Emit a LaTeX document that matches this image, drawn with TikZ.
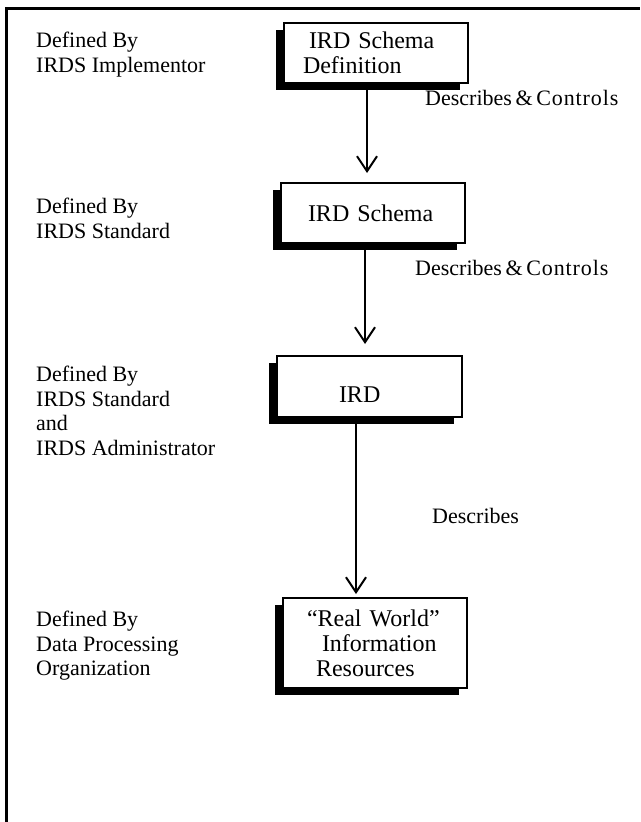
\documentclass[tikz,border=0pt]{standalone}
\usepackage{fontspec}
\setmainfont{Liberation Serif}
\usetikzlibrary{arrows.meta,shadows}

\begin{document}
\begin{tikzpicture}[x=1pt, y=-1pt,
      irdbox/.style={draw, line width=2pt, fill=white, rectangle,
                     minimum width=184pt, align=left,
                     font=\fontsize{24}{25}\selectfont,
                     drop shadow={shadow xshift=-8pt, shadow yshift=-7pt,
                                  fill=black, opacity=1}},
      sidelabel/.style={anchor=north west, inner sep=0pt, align=left,
                        font=\fontsize{22}{24.5}\selectfont},
      flowlabel/.style={anchor=base west, inner sep=0pt,
                        font=\fontsize{22}{24}\selectfont},
      flowarrow/.style={-{Straight Barb[length=15pt,width=20pt]},
                        line width=2pt}]

  \useasboundingbox (0,0) rectangle (640,822);
  % frame
  \draw[line width=3pt] (6.5,822) -- (6.5,8) -- (640,8);

  % levels
  \node[irdbox, minimum height=60pt, inner xsep=19pt, text width=146pt]
       (schemadef) at (376,53) {\hspace*{6pt}IRD Schema\\Definition};
  \node[irdbox, minimum height=60pt, inner xsep=27pt, text width=129pt]
       (schema) at (372.5,213) {IRD Schema};
  \node[irdbox, minimum height=61pt, inner xsep=62pt, text width=61pt]
       (ird) at (369.5,386.5) {\raisebox{-16pt}[0pt][0pt]{IRD}};
  \node[irdbox, minimum height=90pt, inner xsep=24pt, text width=135pt]
       (resources) at (374.5,643)
       {“Real World”\\\hspace*{15pt}Information\\\hspace*{9pt}Resources};

  % who defines each level
  \node[sidelabel] (implementor) at (36,32) {Defined By\\IRDS Implementor};
  \node[sidelabel] (standard) at (36,198) {Defined By\\IRDS Standard};
  \node[sidelabel] (administrator) at (36,366)
       {Defined By\\IRDS Standard\\and\\IRDS Administrator};
  \node[sidelabel] (dporg) at (36,611)
       {Defined By\\Data Processing\\Organization};

  % arrows
  \coordinate (a1) at ([xshift=-9pt]schemadef.south);
  \coordinate (a2) at ([xshift=-7.5pt]schema.south);
  \coordinate (a3) at ([xshift=-13.5pt]ird.south);
  \draw[flowarrow, shorten >=9pt] (a1) -- (a1 |- schema.north);
  \draw[flowarrow, shorten >=11pt] (a2) -- (a2 |- ird.north);
  \draw[flowarrow, shorten >=3pt] (a3) -- (a3 |- resources.north);

  \node[flowlabel] (ctrl1) at (425,105)
       {Describes\,\&\,{\addfontfeature{LetterSpace=4}Controls}};
  \node[flowlabel] (ctrl2) at (415,275)
       {Describes\,\&\,{\addfontfeature{LetterSpace=4}Controls}};
  \node[flowlabel] (desc) at (432,523) {Describes};
\end{tikzpicture}
\end{document}
